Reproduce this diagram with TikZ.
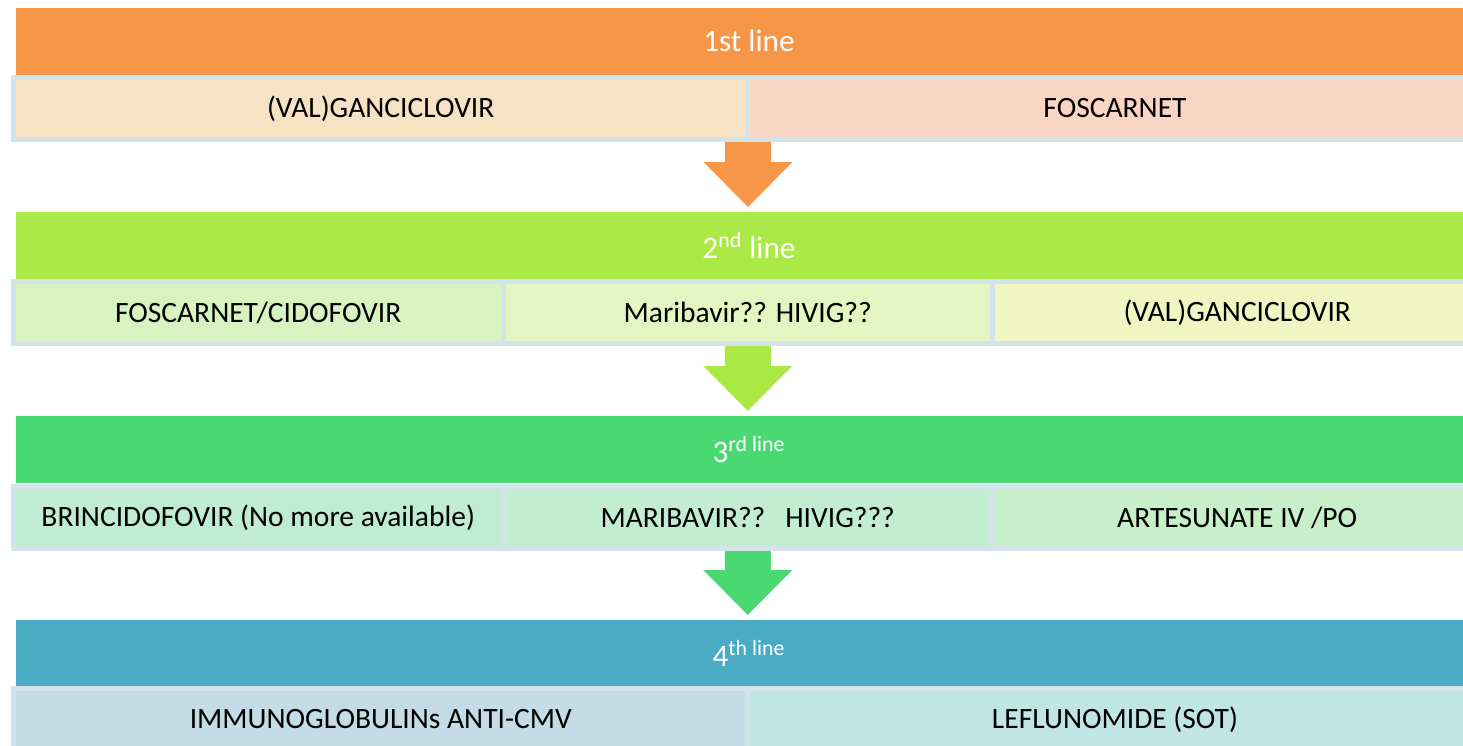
\documentclass[tikz,border=0pt]{standalone}
\usepackage{fontspec}
\setmainfont{Carlito}
\usetikzlibrary{calc}

\definecolor{bandA}{HTML}{F79646}
\definecolor{bandB}{HTML}{ABE946}
\definecolor{bandC}{HTML}{4AD873}
\definecolor{bandD}{HTML}{4AABC5}
\definecolor{cellAa}{HTML}{F8E2C4}
\definecolor{cellAb}{HTML}{F9D5C3}
\definecolor{cellBa}{HTML}{D7F3C2}
\definecolor{cellBb}{HTML}{E3F5C1}
\definecolor{cellBc}{HTML}{EFF6C2}
\definecolor{cellCa}{HTML}{C0ECD4}
\definecolor{cellCb}{HTML}{C2EDD0}
\definecolor{cellCc}{HTML}{C6EFCA}
\definecolor{cellDa}{HTML}{C3DCE5}
\definecolor{cellDb}{HTML}{C0E5E5}
\definecolor{cellrim}{HTML}{D4E3E9}

% block arrow from a row down to the next band
\newcommand{\flowarrow}[3]{%
  \fill[#3] let \p1=(#1), \p2=(#2) in
    (\x1-11.5pt,\y1-1.25pt) -- (\x1+11.5pt,\y1-1.25pt) -- (\x1+11.5pt,\y2+25pt)
    -- (\x1+22.25pt,\y2+25pt) -- (\x1,\y2+2.5pt) -- (\x1-22.25pt,\y2+25pt)
    -- (\x1-11.5pt,\y2+25pt) -- cycle;}

\begin{document}
\begin{tikzpicture}[x=0.5pt, y=-0.5pt,
    band/.style={fill=#1, text=white, minimum width=733pt, minimum height=33.5pt,
        inner sep=0pt, outer sep=0pt, font=\fontsize{15.6}{18}\selectfont},
    cell/.style={fill=#1, draw=cellrim, line width=2.5pt, minimum height=31pt,
        inner sep=0pt, outer sep=0pt, font=\fontsize{14.75}{17}\selectfont},
    half/.style={cell=#1, minimum width=367.25pt},
    third/.style={cell=#1, minimum width=244.75pt}]

    \useasboundingbox (0,0) rectangle (1463,745);

    % Bands
    \node[band=bandA] (b1) at (749, 41.25) {1st line};
    \node[band=bandB] (b2) at (749, 245.5) {2\textsuperscript{nd} line};
    \node[band=bandC] (b3) at (749, 449.5) {3\textsuperscript{rd line}};
    \node[band=bandD] (b4) at (749, 653.5) {4\textsuperscript{th line}};

    % 1st line
    \node[half=cellAa] (r1a) at (380.75, 108.5) {(VAL)GANCICLOVIR};
    \node[half=cellAb] (r1b) at (1115, 108.5) {FOSCARNET};

    % 2nd line
    \node[third=cellBa] (r2a) at (258.25, 312.5) {FOSCARNET/CIDOFOVIR};
    \node[third=cellBb] (r2b) at (747.75, 312.5) {Maribavir?? HIVIG??};
    \node[third=cellBc] (r2c) at (1237.25, 312.5) {(VAL)GANCICLOVIR};

    % 3rd line
    \node[third=cellCa] (r3a) at (258.25, 517.5) {BRINCIDOFOVIR (No more available)};
    \node[third=cellCb] (r3b) at (747.75, 517.5) {MARIBAVIR??~~~HIVIG???};
    \node[third=cellCc] (r3c) at (1237.25, 517.5) {ARTESUNATE IV /PO};

    % 4th line
    \node[half=cellDa] (r4a) at (380.75, 719.5) {IMMUNOGLOBULINs ANTI-CMV};
    \node[half=cellDb] (r4b) at (1115, 719.5) {LEFLUNOMIDE (SOT)};

    % Arrows
    \flowarrow{r1a.south east}{b2.north}{bandA}
    \flowarrow{r2b.south}{b3.north}{bandB}
    \flowarrow{r3b.south}{b4.north}{bandC}

\end{tikzpicture}
\end{document}
